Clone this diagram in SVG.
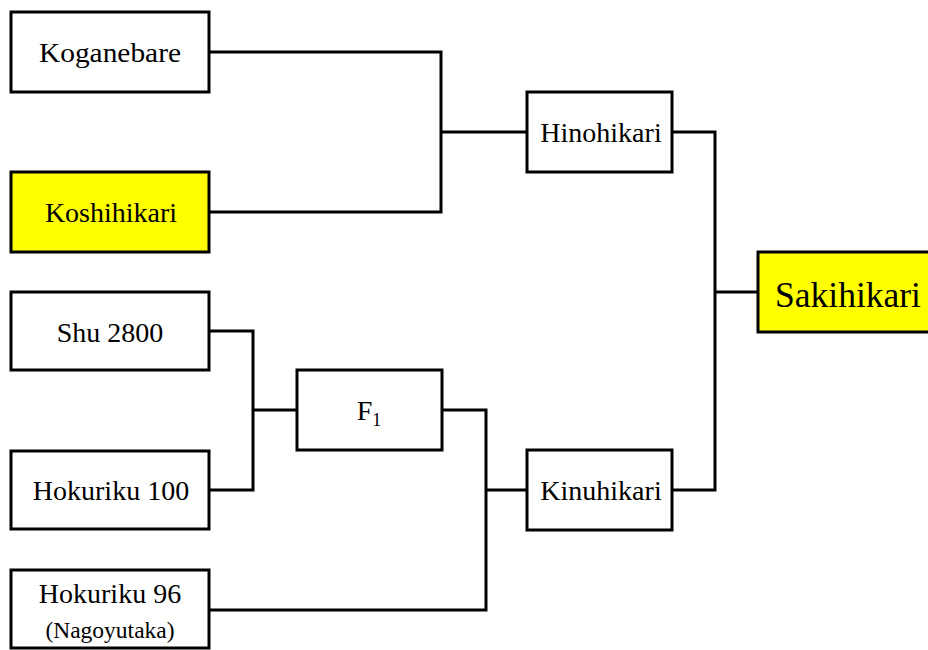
<svg xmlns="http://www.w3.org/2000/svg" width="928" height="650" viewBox="0 0 928 650">
  <style>
    .box { fill: #ffffff; stroke: #000000; stroke-width: 3; }
    .hl { fill: #ffff00; }
    .wire { fill: none; stroke: #000000; stroke-width: 3; stroke-linejoin: miter; }
  </style>
  <rect width="928" height="650" fill="#ffffff"/>

  <!-- pedigree connectors -->
  <g id="connectors" class="wire">
    <polyline points="209,52 441,52 441,212 209,212"/>
    <line x1="441" y1="132" x2="527" y2="132"/>
    <polyline points="209,331 253,331 253,490 209,490"/>
    <line x1="253" y1="410" x2="297" y2="410"/>
    <polyline points="442,410 486,410 486,610 209,610"/>
    <line x1="486" y1="490" x2="527" y2="490"/>
    <polyline points="672,132 715,132 715,490 672,490"/>
    <line x1="715" y1="292" x2="758" y2="292"/>
  </g>

  <!-- labels share one serif face -->
  <g font-family="Liberation Serif, serif" font-size="28" fill="#000000" text-anchor="middle">
    <g id="koganebare">
      <rect class="box" x="11" y="12" width="198" height="80"/>
      <text x="110" y="62" textLength="142" lengthAdjust="spacingAndGlyphs">Koganebare</text>
    </g>
    <g id="koshihikari">
      <rect class="box hl" x="11" y="172" width="198" height="80"/>
      <text x="111" y="222">Koshihikari</text>
    </g>
    <g id="shu2800">
      <rect class="box" x="11" y="292" width="198" height="78"/>
      <text x="110" y="342">Shu 2800</text>
    </g>
    <g id="hokuriku100">
      <rect class="box" x="11" y="451" width="198" height="78"/>
      <text x="111" y="500">Hokuriku 100</text>
    </g>
    <g id="hokuriku96">
      <rect class="box" x="11" y="570" width="198" height="78"/>
      <text x="110" y="603">Hokuriku 96</text>
      <text x="110" y="638" font-size="23.5">(Nagoyutaka)</text>
    </g>
    <g id="f1">
      <rect class="box" x="297" y="370" width="145" height="80"/>
      <text x="369" y="420">F<tspan font-size="18" dy="6">1</tspan></text>
    </g>
    <g id="hinohikari">
      <rect class="box" x="527" y="92" width="145" height="80"/>
      <text x="601" y="142">Hinohikari</text>
    </g>
    <g id="kinuhikari">
      <rect class="box" x="527" y="450" width="145" height="80"/>
      <text x="601" y="500">Kinuhikari</text>
    </g>
    <g id="sakihikari">
      <rect class="box hl" x="758" y="252" width="176" height="80"/>
      <text x="848" y="307" font-size="35.5">Sakihikari</text>
    </g>
  </g>
</svg>
